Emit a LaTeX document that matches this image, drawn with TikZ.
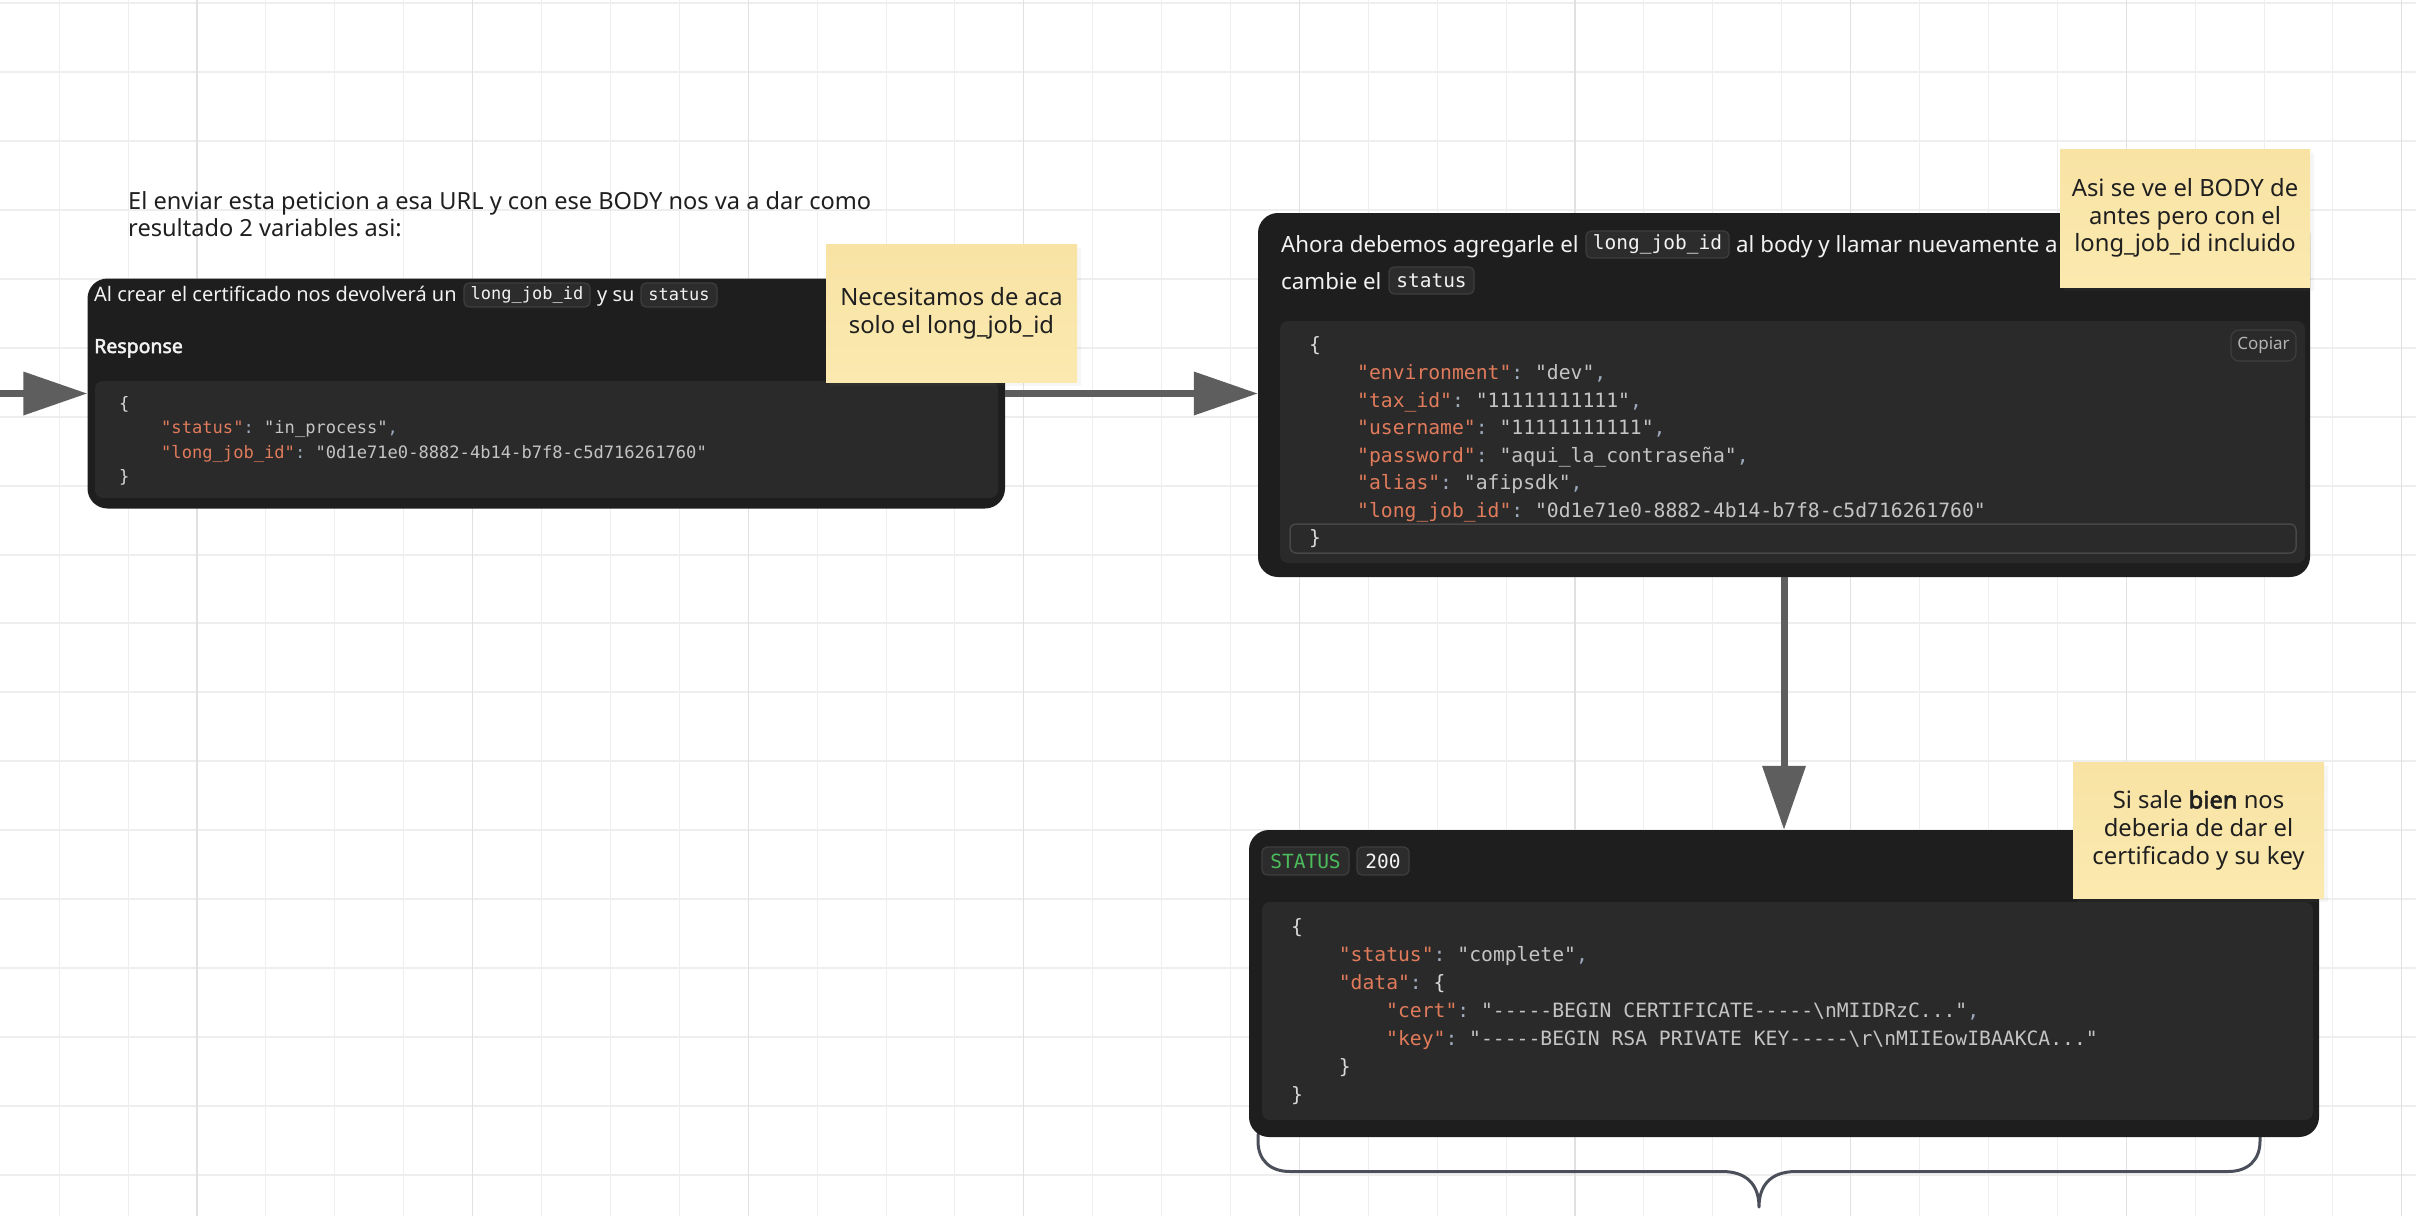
\documentclass[tikz,border=0pt]{standalone}
\usepackage{fontspec}
\setmainfont{Noto Sans}[AutoFakeBold=2.5]
\setmonofont{DejaVu Sans Mono}
\usetikzlibrary{arrows.meta,shadows}
\definecolor{boxbg}{HTML}{1E1E1E}
\definecolor{codebg}{HTML}{2A2A2A}
\definecolor{chipbg}{HTML}{2C2C2C}
\definecolor{chipbd}{HTML}{3E3E3E}
\definecolor{keyc}{HTML}{E07B5B}
\definecolor{valc}{HTML}{C4C4C4}
\definecolor{punc}{HTML}{9DAABD}
\definecolor{brc}{HTML}{DADADA}
\definecolor{arrc}{HTML}{5E5E5E}
\definecolor{stick}{HTML}{FBE9AF}
\definecolor{sticktop}{HTML}{F8E3A4}
\definecolor{gridmin}{HTML}{EEEEEE}
\definecolor{gridmaj}{HTML}{E1E1E1}
\definecolor{gridh}{HTML}{EEEEEE}
\definecolor{bracec}{HTML}{4A4F59}
\definecolor{okgreen}{HTML}{4CBB5C}
\definecolor{hdrtxt}{HTML}{F2F2F2}
\definecolor{inktxt}{HTML}{1F1F1F}
\definecolor{hlbd}{HTML}{474747}
\definecolor{copyc}{HTML}{B3B3B3}
\newcommand\fs[2]{\fontsize{#1}{#2}\selectfont}
\newcommand\K[1]{\textcolor{keyc}{"#1"}\textcolor{punc}{:} }
\newcommand\V[1]{\textcolor{valc}{"#1"}}
\newcommand\Cm{\textcolor{punc}{,}}
\newcommand\Ob{\textcolor{brc}{\{}}
\newcommand\Cb{\textcolor{brc}{\}}}
\newcommand\fivedash{-{}-{}-{}-{}-}
\tikzset{
 panel/.style={fill=boxbg, rounded corners=20pt, inner sep=0pt},
 codeblk/.style={fill=codebg, rounded corners=8pt, inner sep=0pt},
 chipA/.style={fill=chipbg, draw=chipbd, line width=1.2pt, rounded corners=5pt, inner sep=0pt, text=hdrtxt, font=\ttfamily\fs{17}{20}},
 chipB/.style={chipA, font=\ttfamily\fs{19.5}{22}},
 sticky/.style={shading=axis, top color=sticktop, bottom color=stick, inner sep=0pt, align=center, text=inktxt, font=\fs{23.8}{27.8},
   drop shadow={opacity=0.07, shadow xshift=4pt, shadow yshift=-4pt}},
 hdrA/.style={anchor=base west, inner sep=0pt, text=hdrtxt, font=\fs{20}{24}},
 hdrB/.style={hdrA, font=\fs{22.3}{26}},
 codeA/.style={anchor=base west, inner sep=0pt, font=\ttfamily\fs{17.1}{20}},
 codeB/.style={anchor=base west, inner sep=0pt, font=\ttfamily\fs{19.7}{22}},
 intro/.style={anchor=base west, inner sep=0pt, text=inktxt, font=\fs{23.6}{27}},
 arr/.style={draw=arrc, line width=7pt, -{Triangle[length=64pt,width=42pt]}},
 bracepath/.style={draw=bracec, line width=3pt, line cap=round, line join=round},
 gridv/.style={draw=gridmin, line width=1pt},
 gridvm/.style={draw=gridmaj, line width=1.3pt},
 gridhl/.style={draw=gridh, line width=2pt}
}
\begin{document}
\begin{tikzpicture}[x=1pt,y=-1pt]
\useasboundingbox (0,0) rectangle (2416,1216);
\fill[white] (0,0) rectangle (2416,1216);
% grid
\foreach \j in {0,...,17} { \draw[gridhl] (0,{3.3+68.9*\j}) -- (2416,{3.3+68.9*\j}); }
\foreach \i in {-2,...,32} { \draw[gridv] ({197+68.9*\i},0) -- ({197+68.9*\i},1216); }
\foreach \i in {0,...,8} { \draw[gridvm] ({197+275.6*\i},0) -- ({197+275.6*\i},1216); }

% intro text
\node[intro] (intro1) at (128,209) {El enviar esta peticion a esa URL y con ese BODY nos va a dar como};
\node[intro] (intro2) at (128,236) {resultado 2 variables asi:};

% brace under box 3
\draw[bracepath] (1258,1134) -- (1258,1141) .. controls (1258,1160) and (1270,1171.5) .. (1290,1171.5) -- (1722,1171.5) .. controls (1748,1171.5) and (1759,1186) .. (1759,1207) .. controls (1759,1186) and (1770,1171.5) .. (1796,1171.5) -- (2228,1171.5) .. controls (2248,1171.5) and (2260,1160) .. (2260,1141) -- (2260,1134);

% panels
\node[panel, minimum width=917.5pt, minimum height=230pt] (box1) at (546.25,393.5) {};
\node[panel, minimum width=1052pt, minimum height=364pt] (box2) at (1784,395) {};
\node[panel, minimum width=1070pt, minimum height=307pt] (box3) at (1784,983.5) {};

\node[codeblk, minimum width=903pt, minimum height=117pt] (code1) at (546.5,439.5) {};
\node[codeblk, minimum width=1025pt, minimum height=242pt] (code2) at (1792.5,442) {};
\node[codeblk, minimum width=1051pt, minimum height=218pt] (code3) at (1787.5,1011) {};
\node[draw=hlbd, line width=1.5pt, rounded corners=6pt, inner sep=0pt, minimum width=1006pt, minimum height=29pt] (hl2) at (1793,538.5) {};
\node[draw=chipbd, line width=1.2pt, rounded corners=8pt, inner sep=0pt, minimum width=65pt, minimum height=31pt, text=copyc, font=\fs{17}{20}] (copiar) at (2263.5,345.5) {Copiar};

% box 1 header
\node[hdrA] (h1a) at (94,301) {Al crear el certificado nos devolverá un};
\node[chipA, minimum width=126pt, minimum height=24pt] (h1chip1) at (527,295) {long\_job\_id};
\node[hdrA] (h1b) at (597,301) {y su};
\node[chipA, minimum width=76pt, minimum height=24pt] (h1chip2) at (679,295) {status};
\node[hdrA, font=\bfseries\fs{19.5}{22}] (resp) at (94,353) {Response};

% box 1 code
\node[codeA] (c1l1) at (119,409) {\Ob};
\node[codeA] (c1l2) at (161,433) {\K{status}\V{in\_process}\Cm};
\node[codeA] (c1l3) at (161,458) {\K{long\_job\_id}\V{0d1e71e0-8882-4b14-b7f8-c5d716261760}};
\node[codeA] (c1l4) at (119,482) {\Cb};

% box 2 header
\node[hdrB] (h2a) at (1281,252) {Ahora debemos agregarle el};
\node[chipB, minimum width=143pt, minimum height=27pt] (h2chip1) at (1657.5,244.5) {long\_job\_id};
\node[hdrB] (h2b) at (1736,252) {al body y llamar nuevamente a};
\node[hdrB] (h2c) at (1281,289) {cambie el};
\node[chipB, minimum width=85pt, minimum height=27pt] (h2chip2) at (1431.5,280.5) {status};

% box 2 code
\node[codeB] (c2l1) at (1309,351) {\Ob};
\node[codeB] (c2l2) at (1357,379) {\K{environment}\V{dev}\Cm};
\node[codeB] (c2l3) at (1357,407) {\K{tax\_id}\V{11111111111}\Cm};
\node[codeB] (c2l4) at (1357,434) {\K{username}\V{11111111111}\Cm};
\node[codeB] (c2l5) at (1357,462) {\K{password}\V{aqui\_la\_contraseña}\Cm};
\node[codeB] (c2l6) at (1357,489) {\K{alias}\V{afipsdk}\Cm};
\node[codeB] (c2l7) at (1357,517) {\K{long\_job\_id}\V{0d1e71e0-8882-4b14-b7f8-c5d716261760}};
\node[codeB] (c2l8) at (1309,544) {\Cb};

% box 3 header
\node[chipB, minimum width=87pt, minimum height=28pt, text=okgreen] (s3chip1) at (1305.5,861) {STATUS};
\node[chipB, minimum width=52pt, minimum height=28pt] (s3chip2) at (1383,861) {200};

% box 3 code
\node[codeB] (c3l1) at (1291,933) {\Ob};
\node[codeB] (c3l2) at (1338.6,961) {\K{status}\V{complete}\Cm};
\node[codeB] (c3l3) at (1338.6,989) {\K{data}\Ob};
\node[codeB] (c3l4) at (1386,1017) {\K{cert}\V{\fivedash BEGIN CERTIFICATE\fivedash\textbackslash nMIIDRzC...}\Cm};
\node[codeB] (c3l5) at (1386,1045) {\K{key}\V{\fivedash BEGIN RSA PRIVATE KEY\fivedash\textbackslash r\textbackslash nMIIEowIBAAKCA...}};
\node[codeB] (c3l6) at (1338.6,1073) {\Cb};
\node[codeB] (c3l7) at (1291,1101) {\Cb};

% arrows
\coordinate (lstart) at (-10,393.5);
\draw[arr] (lstart) -- (box1.west);
\draw[arr] (box1.east) -- (box1.east -| box2.west);
\draw[arr] (box2.south) -- (box3.north);

% sticky notes
\node[sticky, minimum width=251pt, minimum height=138pt] (note1) at (951.5,313) {Necesitamos de aca\\solo el long\_job\_id};
\node[sticky, minimum width=250pt, minimum height=138pt] (note2) at (2185,218) {Asi se ve el BODY de\\antes pero con el\\long\_job\_id incluido};
\node[sticky, minimum width=251pt, minimum height=136pt] (note3) at (2198.5,830) {Si sale \textbf{bien} nos\\deberia de dar el\\certificado y su key};
\end{tikzpicture}
\end{document}
